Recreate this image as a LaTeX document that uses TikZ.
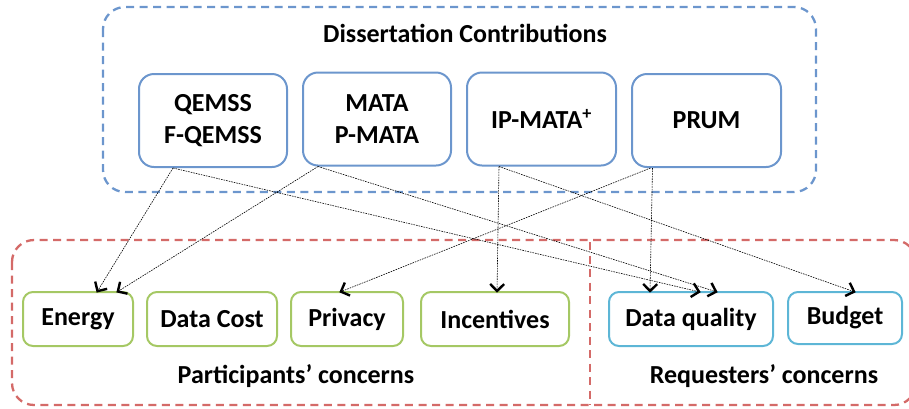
\documentclass[tikz,border=0pt]{standalone}
\usepackage{fontspec}
\setmainfont{Carlito}
\usetikzlibrary{calc}
\definecolor{cblue}{HTML}{6C96CD}
\definecolor{cgreen}{HTML}{A5C864}
\definecolor{ccyan}{HTML}{5DB6D6}
\definecolor{cred}{HTML}{D46A68}
\tikzset{
  every node/.style={font=\fontsize{26}{32}\selectfont\bfseries},
  topbox/.style={draw=cblue, line width=2pt, rounded corners=15pt, align=center, minimum width=148pt, minimum height=93pt, inner sep=0pt},
  pbox/.style={draw=cgreen, line width=2pt, rounded corners=10pt, minimum height=54pt, inner sep=0pt},
  rbox/.style={draw=ccyan, line width=2pt, rounded corners=10pt, minimum height=54pt, inner sep=0pt},
  grp/.style={line width=2.3pt, dash pattern=on 8pt off 5.5pt, rounded corners=22pt},
  conn/.style={black, line width=0.6pt, dash pattern=on 1.6pt off 1pt},
  barb/.style={black, solid, line width=2.4pt, line join=miter, line cap=butt},
  lbl/.style={inner sep=0pt}
}
\newcommand{\connect}[2]{%
  \draw[conn] (#1) -- (#2);
  \coordinate (tb) at ($(#2)!8pt!(#1)$);
  \draw[barb] ($(tb)!7pt!90:(#2)$) -- ($(#2)!1pt!(#1)$) -- ($(tb)!7pt!-90:(#2)$);
}
\begin{document}
\begin{tikzpicture}[x=1pt,y=-1pt]
\useasboundingbox (0,0) rectangle (909,408);
% group frames
\draw[grp, draw=cblue] (103,7) rectangle (816,192);
\draw[grp, draw=cred] (12,240) rectangle (916,405);
\draw[line width=2.3pt, dash pattern=on 8pt off 5.5pt, draw=cred] (590,242) -- (590,405);
% labels
\node[lbl] (title) at (465,33) {Dissertation Contributions};
\node[lbl] (plbl) at (296,376) {Participants’ concerns};
\node[lbl] (rlbl) at (764,376) {Requesters’ concerns};
% top boxes
\node[topbox] (qemss) at (213,120.5) {QEMSS\\F-QEMSS};
\node[topbox] (mata) at (377,119) {MATA\\P-MATA};
\node[topbox, minimum width=149pt] (ipmata) at (541.5,119) {IP-MATA\textsuperscript{+}};
\node[topbox, minimum width=149pt] (prum) at (706.5,120.5) {PRUM};
% bottom boxes
\node[pbox, minimum width=110pt] (energy) at (78,319) {Energy};
\node[pbox, minimum width=130pt] (datacost) at (212,319) {Data Cost};
\node[pbox, minimum width=112pt] (privacy) at (347,319) {Privacy};
\node[pbox, minimum width=148pt] (incent) at (495,319) {Incentives};
\node[rbox, minimum width=164pt] (dq) at (691,319) {Data quality};
\node[rbox, minimum width=114pt, minimum height=52pt] (budget) at (845,318) {Budget};
% connector end points
\coordinate (q0) at ([xshift=-40pt]qemss.south);
\coordinate (m0) at ([xshift=-59pt]mata.south);
\coordinate (i0) at ([xshift=-42.5pt]ipmata.south);
\coordinate (p0) at ([xshift=-56pt]prum.south);
\coordinate (p1) at ([xshift=-54pt]prum.south);
\coordinate (e1) at ([xshift=19pt,yshift=-1pt]energy.north);
\coordinate (e2) at ([xshift=39pt,yshift=-1pt]energy.north);
\coordinate (d1) at ([xshift=9pt,yshift=-1pt]dq.north);
\coordinate (d2) at ([xshift=26pt,yshift=-1pt]dq.north);
\coordinate (d3) at ([xshift=-41pt,yshift=-1pt]dq.north);
\coordinate (n1) at ([xshift=2pt,yshift=-1pt]incent.north);
\coordinate (b1) at ([xshift=10pt,yshift=-1pt]budget.north);
\coordinate (v1) at ([xshift=-7pt,yshift=-1pt]privacy.north);
% connectors
\connect{q0}{e1}
\connect{q0}{d1}
\connect{m0}{e2}
\connect{m0}{d2}
\connect{i0}{n1}
\connect{i0}{b1}
\connect{p0}{v1}
\connect{p1}{d3}
\end{tikzpicture}
\end{document}
